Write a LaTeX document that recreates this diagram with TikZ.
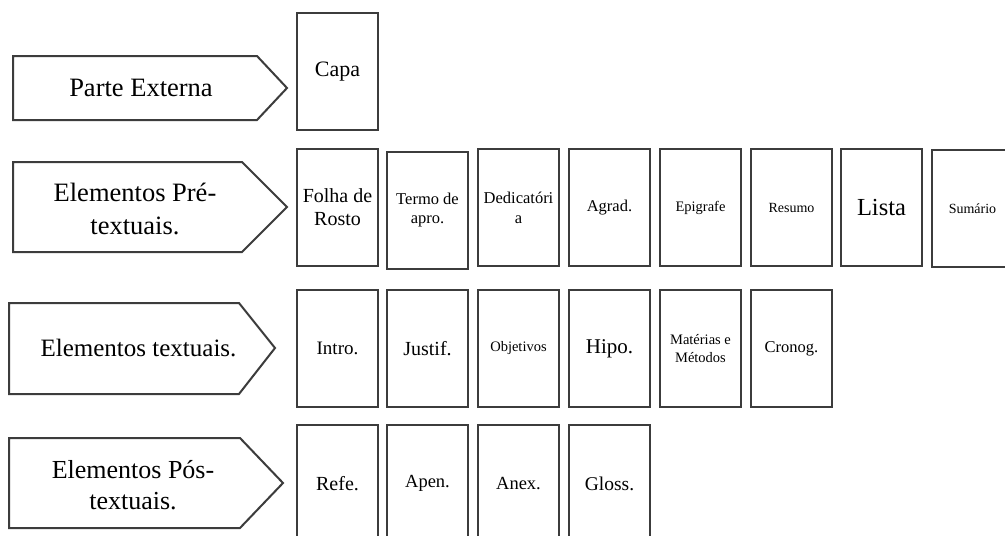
\documentclass[tikz,border=0pt]{standalone}
\usepackage{fontspec}
\setmainfont{Liberation Serif}
\definecolor{linegray}{HTML}{3C3C3C}
\newcommand{\fsz}[2]{\fontsize{#1pt}{#2pt}\selectfont}
\tikzset{
    card/.style={draw=linegray, line width=2pt, fill=white, minimum width=81pt,
        minimum height=117pt, inner sep=1pt, align=center, text=black},
    tag/.style={draw=linegray, line width=2pt, fill=white},
    taglabel/.style={align=center, text=black, inner sep=0pt}
}
\begin{document}
\begin{tikzpicture}[x=1pt, y=-1pt]
    \clip (0,0) rectangle (1005,536);
    \fill[white] (0,0) rectangle (1005,536);
    % left labels
    \draw[tag] (13,56) -- (257,56) -- (287,88) -- (257,120) -- (13,120) -- cycle;
    \node[taglabel, font=\fsz{26.5}{31}] (externa) at (141,88) {Parte Externa};
    \draw[tag] (13,162) -- (242,162) -- (287,207) -- (242,252) -- (13,252) -- cycle;
    \node[taglabel, font=\fsz{26.5}{33}] (pre) at (135,209) {Elementos Pré-\\textuais.};
    \draw[tag] (9,303) -- (239,303) -- (275,348) -- (239,394) -- (9,394) -- cycle;
    \node[taglabel, font=\fsz{25}{30}] (textuais) at (138.5,348) {Elementos textuais.};
    \draw[tag] (9,438) -- (240,438) -- (283,483) -- (240,528) -- (9,528) -- cycle;
    \node[taglabel, font=\fsz{26}{31}] (pos) at (133,485) {Elementos Pós-\\textuais.};
    % parte externa
    \node[card, font=\fsz{22}{25}] (capa) at (337.5,71.5) {Capa};
    % pre-textuais
    \node[card, font=\fsz{20}{23}] (folha) at (337.5,207.5) {Folha de\\Rosto};
    \node[card, font=\fsz{16.5}{19}] (termo) at (427.5,210.5) {Termo de\\apro.};
    \node[card, font=\fsz{16.5}{20}] (dedic) at (518.5,207.5) {Dedicatóri\\a};
    \node[card, font=\fsz{16.5}{19}] (agrad) at (609.5,207.5) {Agrad.};
    \node[card, font=\fsz{14.5}{17}] (epigr) at (700.5,207.5) {Epigrafe};
    \node[card, font=\fsz{14}{17}] (resumo) at (791.5,207.5) {Resumo};
    \node[card, font=\fsz{24.5}{28}] (lista) at (881.5,207.5) {Lista};
    \node[card, font=\fsz{14}{17}] (sumario) at (972.5,208.5) {Sumário};
    % textuais
    \node[card, font=\fsz{19}{22}] (intro) at (337.5,348.5) {Intro.};
    \node[card, font=\fsz{20}{23}] (justif) at (427.5,348.5) {Justif.};
    \node[card, font=\fsz{14.5}{17}] (objet) at (518.5,348.5) {Objetivos};
    \node[card, font=\fsz{21}{24}] (hipo) at (609.5,348.5) {Hipo.};
    \node[card, font=\fsz{14.5}{18}] (metod) at (700.5,348.5) {Matérias e\\Métodos};
    \node[card, font=\fsz{16.5}{19}] (cronog) at (791.5,348.5) {Cronog.};
    % pos-textuais
    \node[card, font=\fsz{20}{23}] (refe) at (337.5,483.5) {Refe.};
    \node[card, font=\fsz{18.5}{21}] (apen) at (427.5,483.5) {Apen.};
    \node[card, font=\fsz{18.5}{21}] (anex) at (518.5,483.5) {Anex.};
    \node[card, font=\fsz{19.5}{22}] (gloss) at (609.5,483.5) {Gloss.};
\end{tikzpicture}
\end{document}
